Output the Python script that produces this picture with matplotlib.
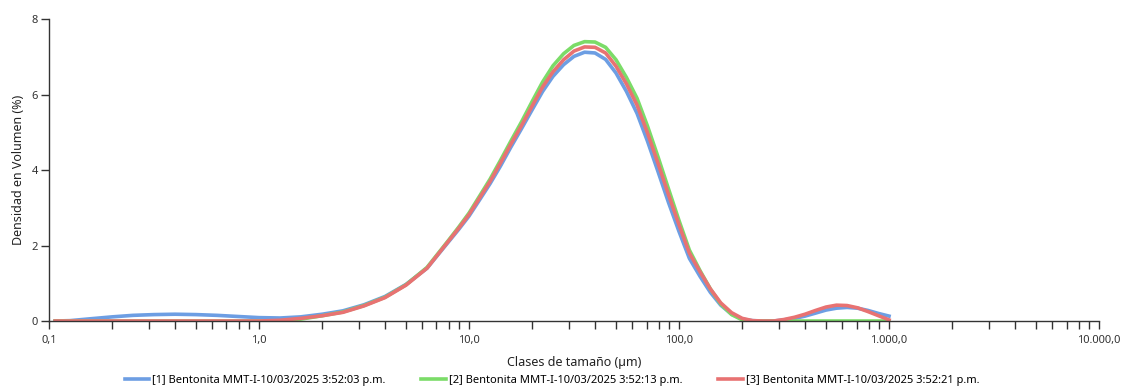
import numpy as np
import matplotlib.pyplot as plt
from matplotlib.ticker import FixedLocator, FuncFormatter, LogLocator, NullFormatter

# --- datos (tamaño en µm, densidad en volumen %) ---
tamano = [0.107, 0.126, 0.158, 0.200, 0.251, 0.316, 0.398, 0.501, 0.631, 0.794,
          1.00, 1.26, 1.58, 2.00, 2.51, 3.16, 3.98, 5.01, 6.31,
          7.94, 8.91, 10.0, 11.2, 12.6, 14.1, 15.8, 17.8, 20.0, 22.4,
          25.1, 28.2, 31.6, 35.5, 39.8, 44.7, 50.1, 56.2, 63.1, 70.8,
          79.4, 89.1, 100.0, 112.0, 126.0, 141.0, 158.0, 178.0, 200.0, 224.0,
          251.0, 282.0, 316.0, 355.0, 398.0, 447.0, 501.0, 562.0, 631.0, 708.0,
          794.0, 891.0, 1000.0]

muestra_1 = [0.0, 0.01, 0.06, 0.11, 0.15, 0.17, 0.18, 0.17, 0.15, 0.12,
             0.09, 0.08, 0.11, 0.18, 0.27, 0.43, 0.65, 0.97, 1.40,
             2.08, 2.42, 2.78, 3.20, 3.64, 4.10, 4.60, 5.10, 5.60, 6.08,
             6.48, 6.79, 7.01, 7.12, 7.10, 6.93, 6.57, 6.08, 5.50, 4.76,
             3.96, 3.14, 2.37, 1.66, 1.18, 0.76, 0.42, 0.18, 0.05, 0.01,
             0.0, 0.0, 0.03, 0.07, 0.13, 0.21, 0.29, 0.34, 0.36, 0.34,
             0.28, 0.20, 0.13]
muestra_2 = [0.0, 0.0, 0.0, 0.0, 0.0, 0.0, 0.0, 0.0, 0.0, 0.0,
             0.0, 0.0, 0.05, 0.14, 0.24, 0.41, 0.63, 0.96, 1.42,
             2.12, 2.48, 2.86, 3.30, 3.76, 4.25, 4.76, 5.28, 5.82, 6.33,
             6.76, 7.08, 7.30, 7.40, 7.39, 7.25, 6.92, 6.45, 5.90, 5.16,
             4.35, 3.50, 2.66, 1.88, 1.33, 0.85, 0.45, 0.17, 0.03, 0.0,
             0.0, 0.0, 0.0, 0.0, 0.0, 0.0, 0.0, 0.0, 0.0, 0.0,
             0.0, 0.0, 0.0]
muestra_3 = [0.0, 0.0, 0.0, 0.0, 0.0, 0.0, 0.0, 0.0, 0.0, 0.0,
             0.0, 0.02, 0.07, 0.14, 0.23, 0.40, 0.62, 0.95, 1.40,
             2.10, 2.45, 2.82, 3.25, 3.70, 4.18, 4.68, 5.18, 5.70, 6.20,
             6.60, 6.92, 7.15, 7.26, 7.25, 7.10, 6.75, 6.28, 5.72, 4.98,
             4.18, 3.35, 2.55, 1.80, 1.30, 0.85, 0.48, 0.22, 0.07, 0.01,
             0.0, 0.0, 0.04, 0.10, 0.18, 0.28, 0.37, 0.42, 0.41, 0.35,
             0.25, 0.14, 0.03]

etiquetas = ["[1] Bentonita MMT-I-10/03/2025 3:52:03 p.m.",
             "[2] Bentonita MMT-I-10/03/2025 3:52:13 p.m.",
             "[3] Bentonita MMT-I-10/03/2025 3:52:21 p.m."]
colores = ['#6d9ee3', '#7bdc68', '#e87272']

plt.rcParams['font.family'] = ['Noto Sans', 'DejaVu Sans']

fig = plt.figure(figsize=(11.24, 3.87), dpi=100)
ax = fig.add_axes([0.0436, 0.1705, 0.9342, 0.7804])

for serie, lab, col in zip([muestra_1, muestra_2, muestra_3], etiquetas, colores):
    ax.plot(tamano, serie, color=col, lw=2.6, label=lab, solid_joinstyle='round')

ax.set_xscale('log')
ax.set_xlim(0.1, 10000)
ax.set_ylim(0, 8)

def fmt_es(v, pos):
    s = f"{v:,.1f}"
    return s.replace(',', 'X').replace('.', ',').replace('X', '.')

ax.xaxis.set_major_locator(FixedLocator([0.1, 1, 10, 100, 1000, 10000]))
ax.xaxis.set_major_formatter(FuncFormatter(fmt_es))
ax.xaxis.set_minor_locator(LogLocator(base=10, subs=np.arange(2, 10), numticks=20))
ax.xaxis.set_minor_formatter(NullFormatter())
ax.set_yticks([0, 2, 4, 6, 8])

for s in ['top', 'right']:
    ax.spines[s].set_visible(False)
for s in ['left', 'bottom']:
    ax.spines[s].set_color('#333333')
    ax.spines[s].set_linewidth(1.0)

ax.tick_params(axis='x', which='both', direction='out', length=6, width=1.0,
               color='#333333', labelsize=8, labelcolor='#333333', pad=4)
ax.tick_params(axis='y', which='major', direction='out', length=6, width=1.0,
               color='#333333', labelsize=8, labelcolor='#333333', pad=2)

ax.set_xlabel('Clases de tamaño (µm)', fontsize=9, color='#222222', labelpad=7)
ax.set_ylabel('Densidad en Volumen (%)', fontsize=9, color='#222222', labelpad=5)

ax.legend(loc='center', bbox_to_anchor=(0.479, -0.196), ncol=3, frameon=False,
          fontsize=8, handlelength=2.2, handletextpad=0.3, columnspacing=3.2,
          borderaxespad=0, borderpad=0)

fig.savefig('out.png', dpi=100)
